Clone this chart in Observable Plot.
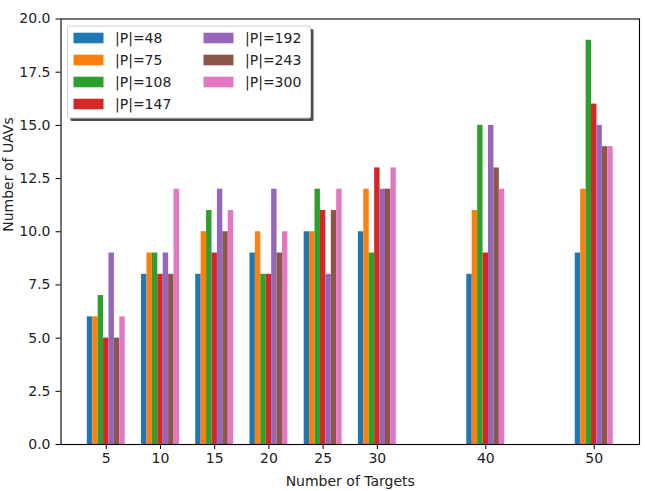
<!DOCTYPE html>
<html>
<head>
<meta charset="utf-8">
<script src="https://cdn.jsdelivr.net/npm/d3@7"></script>
<script src="https://cdn.jsdelivr.net/npm/@observablehq/plot@0.6"></script>
<style>
  html, body { margin: 0; padding: 0; background: white; }
  #chart { width: 645px; height: 491px; }
</style>
</head>
<body>
<div id="chart"></div>
<script>
const targets = [5, 10, 15, 20, 25, 30, 40, 50];
const seriesNames = ["|P|=48", "|P|=75", "|P|=108", "|P|=147", "|P|=192", "|P|=243", "|P|=300"];
const seriesColors = ["#1f77b4", "#ff7f0e", "#2ca02c", "#d62728", "#9467bd", "#8c564b", "#e377c2"];
const p48  = [6, 8, 8, 9, 10, 10, 8, 9];
const p75  = [6, 9, 10, 10, 10, 12, 11, 12];
const p108 = [7, 9, 11, 8, 12, 9, 15, 19];
const p147 = [5, 8, 9, 8, 11, 13, 9, 16];
const p192 = [9, 9, 12, 12, 8, 12, 15, 15];
const p243 = [5, 8, 10, 9, 11, 12, 13, 14];
const p300 = [6, 12, 11, 10, 12, 13, 12, 14];
const yTicks = [0, 2.5, 5, 7.5, 10, 12.5, 15, 17.5, 20];

const allSeries = [p48, p75, p108, p147, p192, p243, p300];
const barWidth = 0.5;
const rows = [];
allSeries.forEach((vals, i) => {
  vals.forEach((v, j) => {
    rows.push({series: seriesNames[i], idx: i, t: targets[j], value: v});
  });
});

const textColor = "#222";
const plot = Plot.plot({
  width: 645,
  height: 491,
  marginLeft: 60.5,
  marginRight: 6,
  marginTop: 18.5,
  marginBottom: 47,
  style: {fontFamily: "DejaVu Sans", fontSize: "14px", color: "#000", background: "white"},
  x: {type: "linear", domain: [0.825, 54.175]},
  y: {domain: [0, 20]},
  color: {domain: seriesNames, range: seriesColors},
  marks: [
    Plot.rectY(rows, {
      x1: d => d.t + (d.idx - 3) * barWidth - barWidth / 2,
      x2: d => d.t + (d.idx - 3) * barWidth + barWidth / 2,
      y1: 0,
      y2: "value",
      fill: "series"
    }),
    Plot.axisX({ticks: targets, tickFormat: d => String(d), tickSize: 5, tickPadding: 4, label: null, fill: textColor, stroke: "#000"}),
    Plot.axisY({ticks: yTicks, tickFormat: d3.format(".1f"), tickSize: 5, tickPadding: 5.5, label: null, fill: textColor, stroke: "#000"}),
    Plot.frame({stroke: "#000", strokeWidth: 1.1}),
    Plot.text(["Number of Targets"], {frameAnchor: "bottom", dy: 37, fill: textColor, lineAnchor: "middle"}),
    Plot.text(["Number of UAVs"], {frameAnchor: "left", dx: -52.5, rotate: -90, fill: textColor, lineAnchor: "middle"})
  ]
});
document.getElementById("chart").appendChild(plot);

// Legend (matplotlib style with shadow)
const svg = d3.select(plot);
const lg = svg.append("g")
  .attr("font-family", "DejaVu Sans")
  .attr("font-size", 14)
  .attr("text-anchor", "start");
const box = {x: 67.5, y: 26, w: 243, h: 92};
lg.append("rect").attr("x", box.x + 3).attr("y", box.y + 3).attr("width", box.w).attr("height", box.h)
  .attr("fill", "#4d4d4d").attr("rx", 1.5);
lg.append("rect").attr("x", box.x).attr("y", box.y).attr("width", box.w).attr("height", box.h)
  .attr("fill", "white").attr("stroke", "#d0d0d0").attr("stroke-width", 1).attr("rx", 1.5);
seriesNames.forEach((name, i) => {
  const col = i < 4 ? 0 : 1;
  const row = i < 4 ? i : i - 4;
  const px = col === 0 ? 73.5 : 203.5;
  const cy = 38 + row * 22;
  lg.append("rect").attr("x", px).attr("y", cy - 5.3).attr("width", 30).attr("height", 10.6)
    .attr("fill", seriesColors[i]);
  lg.append("text").attr("x", px + 41.5).attr("y", cy).attr("dy", "0.36em")
    .attr("text-anchor", "start")
    .attr("fill", textColor).text(name);
});
</script>
</body>
</html>
